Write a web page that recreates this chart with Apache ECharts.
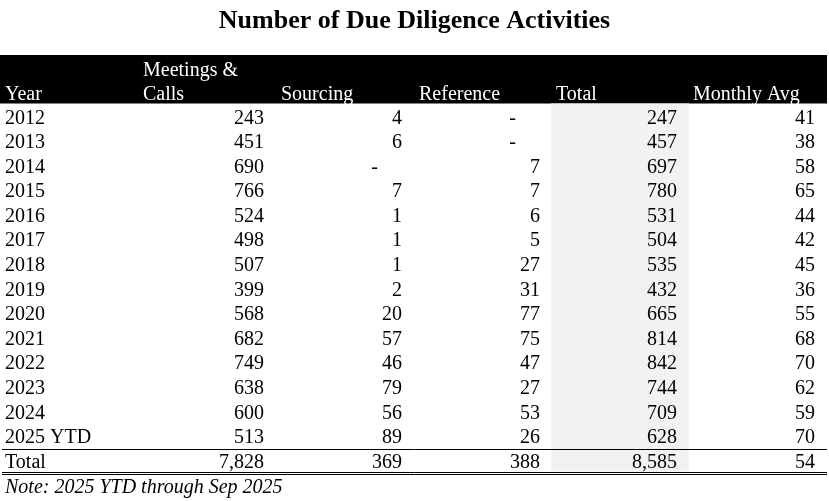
<!DOCTYPE html>
<html>
<head>
<meta charset="utf-8">
<script src="https://cdn.jsdelivr.net/npm/echarts@6/dist/echarts.min.js"></script>
<style>
  html, body { margin: 0; padding: 0; background: #fff; }
  #table { width: 829px; height: 501px; }
</style>
</head>
<body>
<div id="table"></div>
<script>
// 表格数据
const years = ['2012', '2013', '2014', '2015', '2016', '2017', '2018', '2019', '2020', '2021', '2022', '2023', '2024', '2025 YTD'];
const meetings = [243, 451, 690, 766, 524, 498, 507, 399, 568, 682, 749, 638, 600, 513];
const sourcing = [4, 6, null, 7, 1, 1, 1, 2, 20, 57, 46, 79, 56, 89];
const reference = [null, null, 7, 7, 6, 5, 27, 31, 77, 75, 47, 27, 53, 26];
const totals = [247, 457, 697, 780, 531, 504, 535, 432, 665, 814, 842, 744, 709, 628];
const monthlyAvg = [41, 38, 58, 65, 44, 42, 45, 36, 55, 68, 70, 62, 59, 70];
const totalRow = ['Total', 7828, 369, 388, 8585, 54];
const headerTop = ['', 'Meetings &', '', '', '', ''];
const headerBottom = ['Year', 'Calls', 'Sourcing', 'Reference', 'Total', 'Monthly Avg'];
const note = 'Note: 2025 YTD through Sep 2025';

// 版式（像素）
const colRight = [0, 264, 402, 540, 677, 815];
const headLeft = [5, 143, 281, 419, 556, 693];
const dashOffset = 24;
const FONT = '"Liberation Serif", "Times New Roman", serif';

const chart = echarts.init(document.getElementById('table'));

// 组装单元格
const cells = [];
function fmt(v) { return v.toLocaleString('en-US'); }
years.forEach(function (y, i) {
  const row = [y, meetings[i], sourcing[i], reference[i], totals[i], monthlyAvg[i]];
  row.forEach(function (v, c) {
    if (c === 0) {
      cells.push({ value: [headLeft[0], i], text: v, align: 'left', color: '#000', style: 'normal' });
    } else if (v === null) {
      cells.push({ value: [colRight[c] - dashOffset, i], text: '-', align: 'right', color: '#000', style: 'normal' });
    } else {
      cells.push({ value: [colRight[c], i], text: fmt(v), align: 'right', color: '#000', style: 'normal' });
    }
  });
});
const totalIdx = years.length;
totalRow.forEach(function (v, c) {
  if (c === 0) {
    cells.push({ value: [headLeft[0], totalIdx], text: v, align: 'left', color: '#000', style: 'normal' });
  } else {
    cells.push({ value: [colRight[c], totalIdx], text: fmt(v), align: 'right', color: '#000', style: 'normal' });
  }
});
headerTop.forEach(function (t, c) {
  if (t) cells.push({ value: [headLeft[c], -1.95], text: t, align: 'left', color: '#fff', style: 'normal' });
});
headerBottom.forEach(function (t, c) {
  cells.push({ value: [headLeft[c], -0.95], text: t, align: 'left', color: '#fff', style: 'normal' });
});
cells.push({ value: [headLeft[0], totalIdx + 1.03], text: note, align: 'left', color: '#000', style: 'italic' });

const option = {
  animation: false,
  title: {
    text: 'Number of Due Diligence Activities',
    left: 'center',
    top: 3,
    textStyle: { fontFamily: FONT, fontSize: 26, fontWeight: 'bold', color: '#000' }
  },
  grid: { left: 0, right: 0, top: 44.5, bottom: 1.6 },
  xAxis: { type: 'value', min: 0, max: 829, show: false },
  yAxis: { type: 'value', min: -3, max: 15.5, inverse: true, show: false },
  series: [
    {
      // 表头黑底、总计列灰底、分隔线
      type: 'custom',
      silent: true,
      clip: false,
      data: [[0, 0]],
      renderItem: function (params, api) {
        const hTop = api.coord([0, -2.574]);
        const hBot = api.coord([827, -0.602]);
        const gTop = api.coord([551, -0.602]);
        const gBot = api.coord([689, 14.37]);
        const l1 = api.coord([2, 13.46]);
        const l2 = api.coord([2, 14.37]);
        const l3 = api.coord([2, 14.455]);
        const xEnd = api.coord([827, 0])[0];
        function line(p) {
          return { type: 'line', shape: { x1: p[0], y1: Math.round(p[1]) + 0.5, x2: xEnd, y2: Math.round(p[1]) + 0.5 }, style: { stroke: '#000', lineWidth: 1 } };
        }
        return {
          type: 'group',
          children: [
            { type: 'rect', shape: { x: hTop[0], y: hTop[1], width: hBot[0] - hTop[0], height: hBot[1] - hTop[1] }, style: { fill: '#000' } },
            { type: 'rect', shape: { x: gTop[0], y: gTop[1], width: gBot[0] - gTop[0], height: gBot[1] - gTop[1] }, style: { fill: '#f2f2f2' } },
            line(l1), line(l2), line(l3)
          ]
        };
      }
    },
    {
      type: 'custom',
      silent: true,
      clip: false,
      data: cells,
      renderItem: function (params, api) {
        const d = cells[params.dataIndex];
        const p = api.coord(d.value);
        return {
          type: 'text',
          style: {
            text: d.text,
            x: p[0],
            y: p[1],
            fill: d.color,
            fontFamily: FONT,
            fontSize: 20,
            fontStyle: d.style,
            textAlign: d.align,
            textVerticalAlign: 'middle'
          }
        };
      }
    }
  ]
};

chart.setOption(option);
</script>
</body>
</html>
